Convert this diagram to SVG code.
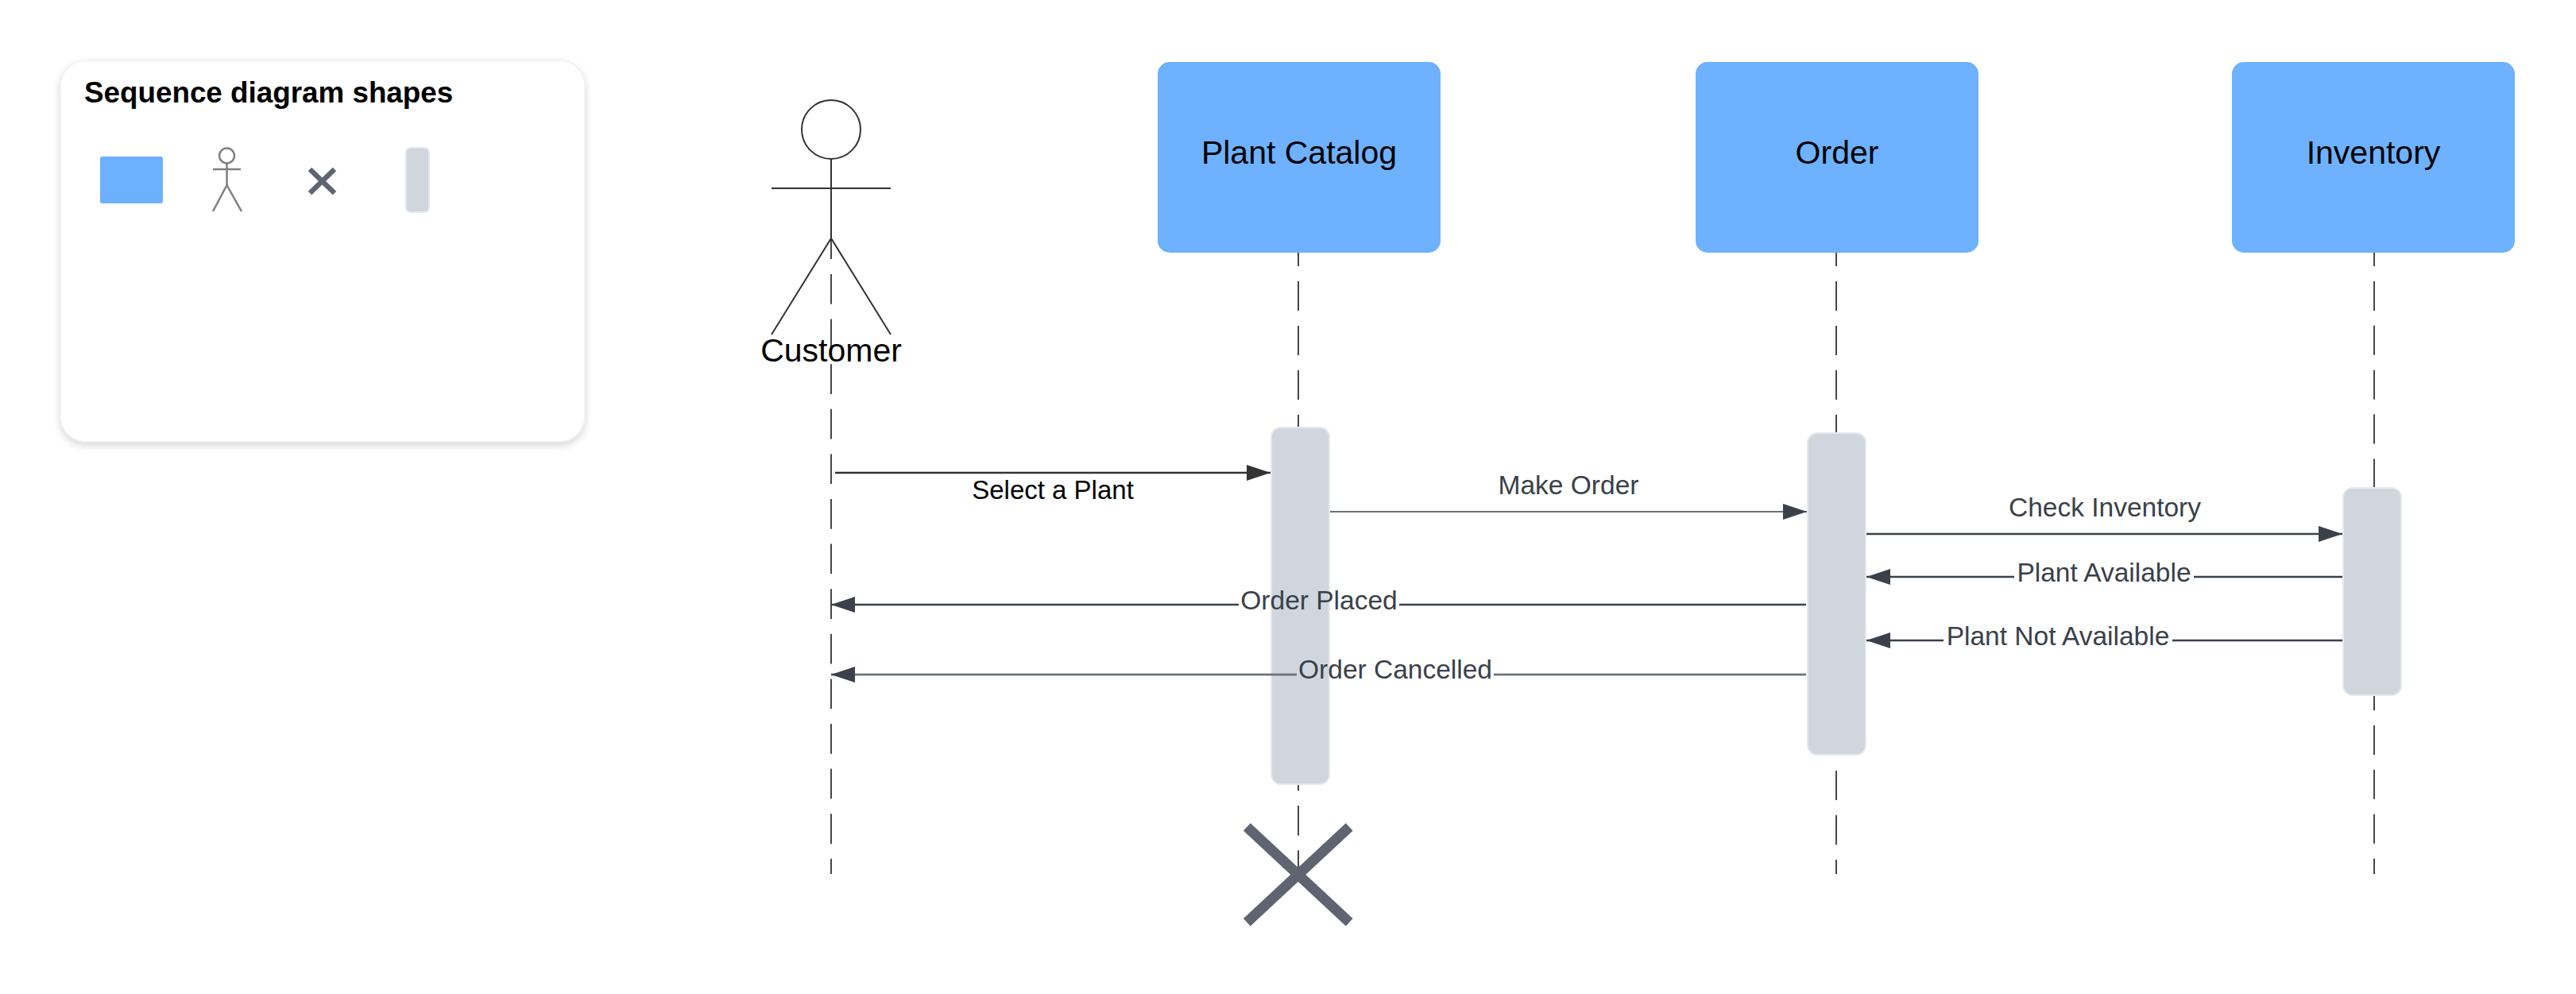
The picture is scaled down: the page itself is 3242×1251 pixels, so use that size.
<svg xmlns="http://www.w3.org/2000/svg" width="3242" height="1251" viewBox="0 0 3242 1251">
<defs>
<style>
.lbl{font-family:"Liberation Sans",Arial,sans-serif;font-size:33.5px;fill:#3a414a;text-anchor:middle}
.big{font-family:"Liberation Sans",Arial,sans-serif;font-size:41px;fill:#000;text-anchor:middle}
.box{fill:#6db1ff}
.bar{fill:#cfd6de;stroke:#e6e9ed;stroke-width:2}
.life{stroke:#333;stroke-width:1.8;fill:none}
.msg{stroke:#3a414a;stroke-width:2.5;fill:none}
.actor{stroke:#333;stroke-width:2;fill:none}
</style>
<marker id="ah" viewBox="0 0 30 20" refX="30" refY="10" markerWidth="30" markerHeight="20" markerUnits="userSpaceOnUse" orient="auto">
<path d="M0,0 L30,10 L0,20 Z" fill="#3a414a"/>
</marker>
<marker id="ahk" viewBox="0 0 30 20" refX="30" refY="10" markerWidth="30" markerHeight="20" markerUnits="userSpaceOnUse" orient="auto">
<path d="M0,0 L30,10 L0,20 Z" fill="#333"/>
</marker>
<filter id="sh" x="-10%" y="-10%" width="120%" height="125%">
<feDropShadow dx="0" dy="4" stdDeviation="5" flood-color="#000" flood-opacity="0.16"/>
</filter>
</defs>
<rect width="3242" height="1251" fill="#fff"/>

<g id="legend">
<rect x="76" y="76" width="660" height="480" rx="32" fill="#fff" stroke="#f0f0f0" stroke-width="1.5" filter="url(#sh)"/>
<text x="106" y="129" font-family="Liberation Sans,Arial,sans-serif" font-size="36.8" font-weight="bold" fill="#000">Sequence diagram shapes</text>
<rect x="126" y="197" width="79" height="59" rx="3" fill="#6cb0ff"/>
<g stroke="#808080" stroke-width="2.5" fill="none">
<circle cx="285.5" cy="196" r="9.5"/>
<line x1="268" y1="213" x2="303" y2="213"/>
<line x1="285.5" y1="205.5" x2="285.5" y2="233"/>
<path d="M268,266 L285.5,233 L304,266"/>
</g>
<g stroke="#5e6470" stroke-width="6.5">
<line x1="390" y1="213" x2="421" y2="243"/>
<line x1="421" y1="213" x2="390" y2="243"/>
</g>
<rect x="511" y="186" width="29" height="81" rx="6" fill="#cfd6de" stroke="#e3e7eb" stroke-width="2"/>
</g>

<g id="lifelines">
<line class="life" x1="1046" y1="288.4" x2="1046" y2="1100" stroke-dasharray="37.7 18.9"/>
<line class="life" x1="1634" y1="298" x2="1634" y2="540" stroke-dasharray="37 19"/>
<line class="life" x1="1634" y1="957.7" x2="1634" y2="1100" stroke-dasharray="37.5 18.8"/>
<line class="life" x1="2311" y1="298" x2="2311" y2="1100" stroke-dasharray="37 19"/>
<line class="life" x1="2988" y1="298" x2="2988" y2="1100" stroke-dasharray="37 18.9"/>
</g>

<g id="customer">
<circle class="actor" cx="1046" cy="163" r="37"/>
<line class="actor" x1="971" y1="237" x2="1121" y2="237"/>
<line class="actor" x1="1046" y1="200" x2="1046" y2="300"/>
<path class="actor" d="M971,421 L1046,300 L1121,421"/>
<text class="big" x="1046" y="455">Customer</text>
</g>

<g id="plant-catalog">
<rect class="box" x="1457" y="78" width="356" height="240" rx="15"/>
<text class="big" x="1635" y="206">Plant Catalog</text>
</g>
<g id="order">
<rect class="box" x="2134" y="78" width="356" height="240" rx="15"/>
<text class="big" x="2312" y="206">Order</text>
</g>
<g id="inventory">
<rect class="box" x="2809" y="78" width="356" height="240" rx="15"/>
<text class="big" x="2987" y="206">Inventory</text>
</g>

<g id="activation-catalog"><rect class="bar" x="1600" y="538" width="73" height="449" rx="12"/></g>
<g id="activation-order"><rect class="bar" x="2275" y="545" width="73" height="405" rx="12"/></g>
<g id="activation-inventory"><rect class="bar" x="2949" y="614" width="73" height="261" rx="12"/></g>

<g id="destroy">
<g stroke="#5e6470" stroke-width="13">
<line x1="1569.3" y1="1040.8" x2="1698.2" y2="1160.8"/>
<line x1="1698.2" y1="1040.8" x2="1569.3" y2="1160.8"/>
</g>
</g>

<g id="connectors">
<line x1="1051" y1="595" x2="1599" y2="595" stroke="#333" stroke-width="2.3" marker-end="url(#ahk)"/>
<text x="1325" y="628" font-family="Liberation Sans,Arial,sans-serif" font-size="33" fill="#000" text-anchor="middle">Select a Plant</text>

<line x1="1674" y1="644" x2="2274" y2="644" stroke="#3a414a" stroke-width="1.5" marker-end="url(#ah)"/>
<text class="lbl" x="1974" y="622">Make Order</text>

<line class="msg" x1="2349" y1="672" x2="2948" y2="672" marker-end="url(#ah)"/>
<text class="lbl" x="2649" y="650">Check Inventory</text>

<line class="msg" x1="2948" y1="726" x2="2761" y2="726"/>
<line class="msg" x1="2535" y1="726" x2="2349" y2="726" marker-end="url(#ah)"/>
<text class="lbl" x="2648" y="732">Plant Available</text>

<line class="msg" x1="2273" y1="761" x2="1761" y2="761" stroke-width="3"/>
<line class="msg" x1="1559" y1="761" x2="1046" y2="761" stroke-width="3" marker-end="url(#ah)"/>
<text class="lbl" x="1660" y="767">Order Placed</text>

<line class="msg" x1="2948" y1="806" x2="2734" y2="806"/>
<line class="msg" x1="2446" y1="806" x2="2349" y2="806" marker-end="url(#ah)"/>
<text class="lbl" x="2590" y="812">Plant Not Available</text>

<line class="msg" x1="2273" y1="849" x2="1880" y2="849" stroke-width="3.5"/>
<line class="msg" x1="1632" y1="849" x2="1046" y2="849" stroke-width="3.5" marker-end="url(#ah)"/>
<line x1="2273" y1="849" x2="1880" y2="849" stroke="#9aa0a8" stroke-width="1"/>
<line x1="1632" y1="849" x2="1076" y2="849" stroke="#9aa0a8" stroke-width="1"/>
<text class="lbl" x="1756" y="854">Order Cancelled</text>
</g>
</svg>
